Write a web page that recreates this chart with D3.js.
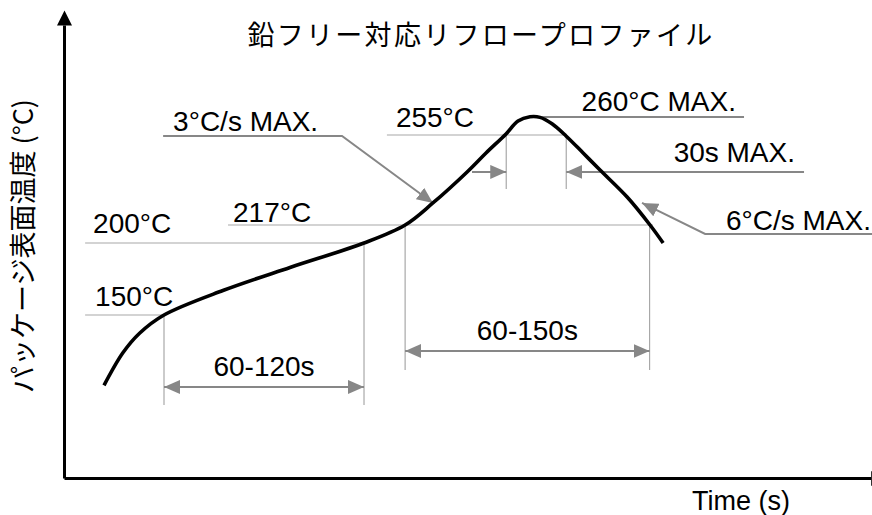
<!DOCTYPE html>
<html>
<head>
<meta charset="utf-8">
<script src="https://cdn.jsdelivr.net/npm/d3@7"></script>
<style>
  body { margin: 0; background: #fff; }
  text { font-family: "Liberation Sans", Arial, sans-serif; fill: #000; }
  .jp { font-family: "Noto Sans CJK JP", "Liberation Sans", sans-serif; }
</style>
</head>
<body>
<svg id="chart" width="872" height="515"></svg>
<script>
// reflow profile (time in s, temperature in °C)
const profileTime = [18, 26.5, 34, 45, 71.5, 101.7, 135, 153.5, 166, 181.4, 189.9, 198.9, 204.3, 209.7, 214.2, 219.6, 225.9, 233.6, 241.2, 253.4, 263.7, 269.6];
const profileTemp = [96, 121, 136, 150, 167, 183, 200, 217, 226.3, 239.4, 247.4, 255.3, 258.9, 260.2, 259.9, 258.1, 254.6, 247.4, 240.2, 228.8, 217, 200];

const tempLevels = [150, 200, 217, 255, 260];
const soakWindow = [45, 135];         // 150 -> 200°C
const liquidusWindow = [153.5, 263.5]; // above 217°C
const peakWindow = [199, 226];         // above 255°C

const titleText = "鉛フリー対応リフロープロファイル";
const yTitle = "パッケージ表面温度 (°C)";
const xTitle = "Time (s)";
const soakLabel = "60-120s";
const liquidusLabel = "60-150s";
const peakLabel = "30s MAX.";
const rampUpLabel = "3°C/s MAX.";
const rampDownLabel = "6°C/s MAX.";
const peakMaxLabel = "260°C MAX.";

const svg = d3.select("#chart");

// time axis is linear, temperature axis is schematic (piecewise)
const x = d3.scaleLinear().domain([0, 363]).range([64, 870.7]);
const y = d3.scaleLinear()
    .domain([25, 150, 200, 217, 255, 260, 330])
    .range([478, 315, 243, 225, 135, 117, 25]);

const grey = "#878787";
const light = "#a8a8a8";

const defs = svg.append("defs");
defs.append("marker")
    .attr("id", "axisArrow")
    .attr("markerUnits", "userSpaceOnUse")
    .attr("viewBox", "0 -8 16 16")
    .attr("refX", 0).attr("refY", 0)
    .attr("markerWidth", 16).attr("markerHeight", 16)
    .attr("orient", "auto")
    .append("path").attr("d", "M0,-7.5L15,0L0,7.5Z").attr("fill", "#000");
defs.append("marker")
    .attr("id", "greyArrow")
    .attr("markerUnits", "userSpaceOnUse")
    .attr("viewBox", "0 -7 16 14")
    .attr("refX", 16).attr("refY", 0)
    .attr("markerWidth", 16).attr("markerHeight", 14)
    .attr("orient", "auto-start-reverse")
    .append("path").attr("d", "M0,-7L16,0L0,7Z").attr("fill", grey);

const line = d3.line().x(d => x(d[0])).y(d => y(d[1]));

function thin(pts) {
    svg.append("path").attr("d", line(pts))
        .attr("fill", "none").attr("stroke", light).attr("stroke-width", 1.2);
}
function leader(pts, arrowStart, arrowEnd) {
    const p = svg.append("path").attr("d", line(pts))
        .attr("fill", "none").attr("stroke", grey).attr("stroke-width", 2);
    if (arrowStart) p.attr("marker-start", "url(#greyArrow)");
    if (arrowEnd) p.attr("marker-end", "url(#greyArrow)");
}
function label(txt, px, py, anchor, size) {
    svg.append("text").attr("x", px).attr("y", py)
        .attr("text-anchor", anchor || "start")
        .style("font-size", (size || 28) + "px")
        .text(txt);
}

// temperature reference lines
thin([[9.5, tempLevels[0]], [soakWindow[0], tempLevels[0]]]);
thin([[9.5, tempLevels[1]], [soakWindow[1], tempLevels[1]]]);
thin([[73.8, tempLevels[2]], [265, tempLevels[2]]]);
thin([[145.3, tempLevels[3]], [peakWindow[1], tempLevels[3]]]);

// window verticals
thin([[soakWindow[0], tempLevels[0]], [soakWindow[0], 81]]);
thin([[soakWindow[1], tempLevels[1]], [soakWindow[1], 81]]);
liquidusWindow.forEach(t => thin([[t, tempLevels[2]], [t, 107.8]]));
peakWindow.forEach(t => thin([[t, tempLevels[3]], [t, 232.2]]));

// dimension arrows
leader([[soakWindow[0], 94.8], [soakWindow[1], 94.8]], true, true);
leader([[liquidusWindow[0], 122.4], [liquidusWindow[1], 122.4]], true, true);
leader([[183.6, 239.4], [peakWindow[0], 239.4]], false, true);
leader([[333, 239.4], [peakWindow[1], 239.4]], false, true);

// callouts
leader([[214, tempLevels[4]], [306, tempLevels[4]]], false, false);
leader([[44.6, 254.6], [125.1, 254.6], [166, 226.3]], false, true);
leader([[363.6, 208.5], [288.5, 208.5], [260.1, 226.3]], false, true);

// profile curve
svg.append("path")
    .datum(profileTime.map((t, i) => [t, profileTemp[i]]))
    .attr("d", d3.line().x(d => x(d[0])).y(d => y(d[1])).curve(d3.curveCatmullRom.alpha(0.5)))
    .attr("fill", "none").attr("stroke", "#000").attr("stroke-width", 3.6)
    .attr("stroke-linejoin", "round");

// axes without ticks, arrow heads on the domain lines
const xAxis = svg.append("g").attr("transform", "translate(0," + y(25) + ")")
    .call(d3.axisBottom(x).tickValues([]).tickSizeOuter(0));
const yAxis = svg.append("g").attr("transform", "translate(" + x(0) + ",0)")
    .call(d3.axisLeft(y).tickValues([]).tickSizeOuter(0));
[xAxis, yAxis].forEach(g => g.select(".domain")
    .attr("stroke", "#000").attr("stroke-width", 3)
    .attr("marker-end", "url(#axisArrow)"));

// texts
label(tempLevels[0] + "°C", x(9.5) + 10, y(tempLevels[0]) - 9);
label(tempLevels[1] + "°C", x(9.5) + 8, y(tempLevels[1]) - 10);
label(tempLevels[2] + "°C", x(73.8) + 5, y(tempLevels[2]) - 3);
label(tempLevels[3] + "°C", x(145.3) + 9, y(tempLevels[3]) - 8);
label(peakMaxLabel, x(214) + 42, y(tempLevels[4]) - 6);
label(peakLabel, x(333) - 9, y(239.4) - 10, "end");
label(rampUpLabel, x(44.6) + 10, y(254.6) - 4.5);
label(rampDownLabel, 871, y(208.5) - 4, "end");
label(soakLabel, (x(soakWindow[0]) + x(soakWindow[1])) / 2, y(94.8) - 11, "middle");
label(liquidusLabel, (x(liquidusWindow[0]) + x(liquidusWindow[1])) / 2, y(122.4) - 11, "middle");
label(xTitle, 741, y(25) + 32, "middle", 27);

svg.append("text").attr("class", "jp")
    .attr("x", 481).attr("y", 45)
    .attr("text-anchor", "middle")
    .style("font-size", "27px").style("letter-spacing", "2.3px")
    .text(titleText);

svg.append("text").attr("class", "jp")
    .attr("transform", "translate(33,246) rotate(-90)")
    .attr("text-anchor", "middle")
    .style("font-size", "27px")
    .text(yTitle);
</script>
</body>
</html>
